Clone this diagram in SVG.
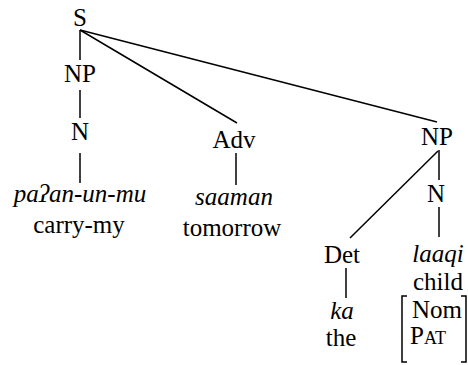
<svg xmlns="http://www.w3.org/2000/svg" width="468" height="365" viewBox="0 0 468 365" font-family="'Liberation Serif', 'Times New Roman', serif">
<style>
text{font-family:'Liberation Serif','Times New Roman',serif;font-size:25px;fill:#000;text-anchor:middle}
.i{font-style:italic}
.e line,.e polyline{stroke:#000;stroke-width:1.5;fill:none}
</style>
<rect width="468" height="365" fill="#fff"/>
<g class="e" id="connectors">
<line x1="80" y1="30" x2="80" y2="60"/>
<line x1="80" y1="90" x2="80" y2="118"/>
<line x1="80" y1="153" x2="80" y2="183"/>
<line x1="80" y1="30" x2="237" y2="123"/>
<line x1="236" y1="153" x2="236" y2="185"/>
<line x1="80" y1="30" x2="437" y2="122"/>
<line x1="439" y1="150" x2="439" y2="180"/>
<line x1="439" y1="207" x2="439" y2="237"/>
<line x1="438" y1="151" x2="350" y2="238"/>
<line x1="346" y1="268" x2="346" y2="298"/>
</g>
<g id="S"><text x="80" y="26">S</text></g>
<g id="NP1"><text x="80" y="82">NP</text></g>
<g id="N1"><text x="80" y="140">N</text></g>
<g id="leaf1"><text class="i" x="80" y="202">paʔan-un-mu</text><text x="79" y="233">carry-my</text></g>
<g id="Adv"><text x="234" y="148">Adv</text></g>
<g id="leaf2"><text class="i" x="234" y="205">saaman</text><text x="232" y="236">tomorrow</text></g>
<g id="NP2"><text x="437" y="145">NP</text></g>
<g id="N2"><text x="436" y="202">N</text></g>
<g id="Det"><text x="342" y="263">Det</text></g>
<g id="leaf3"><text class="i" x="342" y="319">ka</text><text x="341" y="346">the</text></g>
<g id="leaf4"><text class="i" x="438" y="262">laaqi</text><text x="438" y="290">child</text>
<text x="437" y="318">Nom</text><text x="410" y="344" style="text-anchor:start">P<tspan font-size="18">AT</tspan></text>
<g class="e"><polyline points="407,296 402,296 402,362 407,362"/><polyline points="461,296 466,296 466,362 461,362"/></g>
</g>
</svg>
